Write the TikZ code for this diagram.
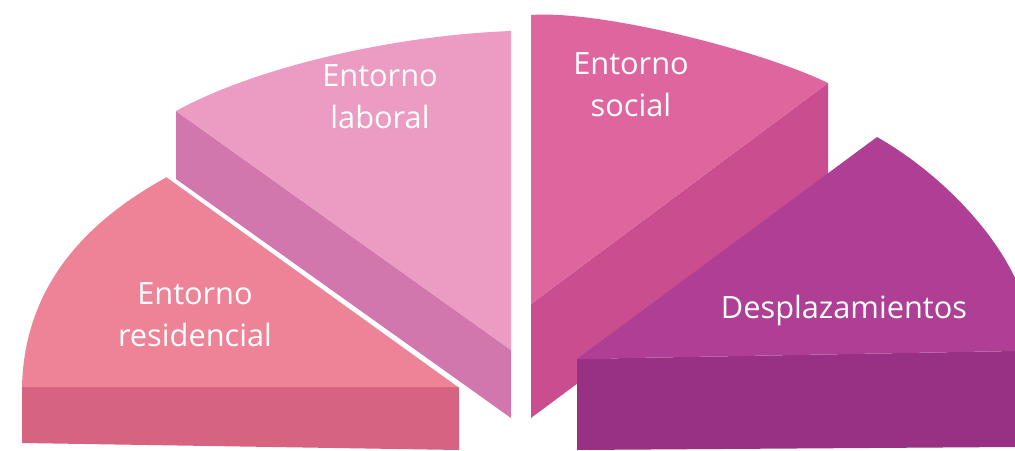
\documentclass[tikz,border=0pt]{standalone}
\usepackage{fontspec}
\setmainfont{Open Sans}
\definecolor{resTop}{HTML}{EE8398}
\definecolor{resSide}{HTML}{D6637F}
\definecolor{labTop}{HTML}{EC9BC2}
\definecolor{labSide}{HTML}{D277AE}
\definecolor{socTop}{HTML}{DF659E}
\definecolor{socSide}{HTML}{C94D8F}
\definecolor{despTop}{HTML}{AF3F94}
\definecolor{despSide}{HTML}{983183}

\begin{document}
\begin{tikzpicture}[x=0.02cm, y=-0.02cm,
		slicelabel/.style={text=white, align=center, inner sep=0pt, font=\fontsize{17.5}{23.8}\selectfont}]
		\useasboundingbox (0,0) rectangle (1015,450);

		% Entorno laboral
		\fill[labSide] (176,111) -- (511,350) -- (511,418) -- (176,179) -- cycle;
		\fill[labTop] (176,111) .. controls (260,65) and (400,35) .. (511,31) -- (511,350) -- cycle;

		% Entorno residencial
		\fill[resSide] (22,387) -- (459,387) -- (459,450) -- (22,443) -- cycle;
		\fill[resTop] (459,387) -- (167,177) .. controls (70,230) and (24,300) .. (22,387) -- cycle;
		\draw[white, line width=0.5pt] (167,177) -- (459,387);

		% Entorno social
		\fill[socSide] (531,304) -- (828,83) -- (828,197) -- (531,418) -- cycle;
		\fill[socTop] (531,304) -- (531,15) .. controls (600,10) and (760,50) .. (828,83) -- cycle;

		% Desplazamientos
		\fill[despSide] (577,359) -- (1015,351) -- (1015,447) -- (577,450) -- cycle;
		\fill[despTop] (577,359) -- (877,137) .. controls (935,170) and (990,225) .. (1015,278) -- (1015,351) -- cycle;

		\node[slicelabel] (residencial) at (195,315) {Entorno\\residencial};
		\node[slicelabel] (laboral) at (380,97) {Entorno\\laboral};
		\node[slicelabel] (social) at (631,85) {Entorno\\social};
		\node[slicelabel, anchor=base] (desplaz) at (844,318) {Desplazamientos};

	\end{tikzpicture}
\end{document}
